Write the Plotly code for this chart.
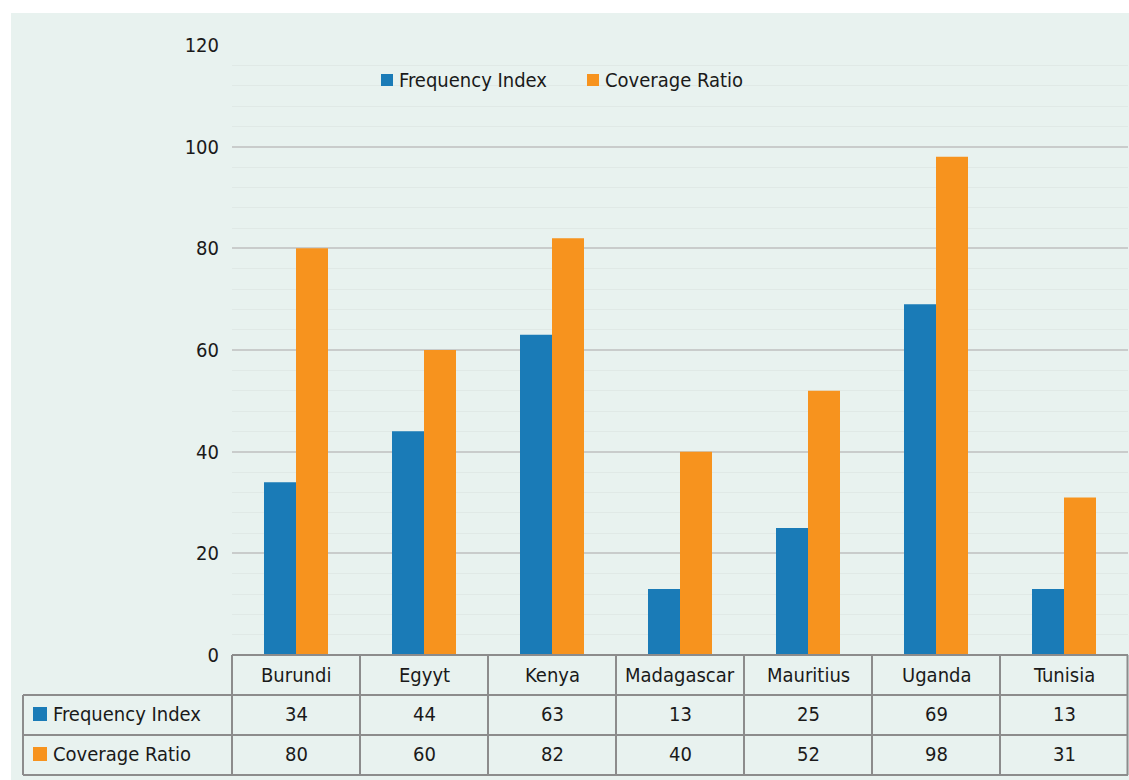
import plotly.graph_objects as go

# Data
countries = ["Burundi", "Egyyt", "Kenya", "Madagascar", "Mauritius", "Uganda", "Tunisia"]
frequency_index = [34, 44, 63, 13, 25, 69, 13]
coverage_ratio = [80, 60, 82, 40, 52, 98, 31]
series_names = ["Frequency Index", "Coverage Ratio"]
y_ticks = [0, 20, 40, 60, 80, 100, 120]

BLUE = "#1a7bb7"
ORANGE = "#f7931e"
BG = "#e8f2ef"
GRID = "#c9cccb"
MINOR = "#e0e9e6"
LINE = "#8c8c8c"
TEXT = "#1a1a1a"
FONT = "Liberation Sans Narrow, DejaVu Sans Condensed, Arial Narrow, sans-serif"
FS = 20

W, H = 1129, 780
L, R, T, B = 232, 1, 45, 125
PW, PH = W - L - R, H - T - B


def px(x):
    return (x - L) / PW


def py(y):
    return (H - B - y) / PH


def label(x, y, text, xref="paper", xanchor="center"):
    return dict(x=x, xref=xref, y=py(y), yref="paper", text=text, showarrow=False,
                xanchor=xanchor, yanchor="middle",
                font=dict(size=FS, color=TEXT, family=FONT))


fig = go.Figure()
fig.add_bar(x=countries, y=frequency_index, name=series_names[0], marker_color=BLUE,
            marker_line_width=0)
fig.add_bar(x=countries, y=coverage_ratio, name=series_names[1], marker_color=ORANGE,
            marker_line_width=0)

shapes = []
annotations = []

# Panel background
shapes.append(dict(type="rect", xref="paper", yref="paper", x0=px(11), x1=px(W + 2),
                   y0=py(13), y1=py(H + 2), fillcolor=BG, line_width=0, layer="below"))

# Data table beneath the bars
n = len(countries)
row_tops = [655, 695, 735, 775]
lw = 2
shapes.append(dict(type="line", xref="paper", yref="paper", x0=0, x1=1,
                   y0=py(row_tops[0]), y1=py(row_tops[0]), line=dict(color=LINE, width=lw)))
for yy in row_tops[1:]:
    shapes.append(dict(type="line", xref="paper", yref="paper", x0=px(23), x1=1,
                       y0=py(yy), y1=py(yy), line=dict(color=LINE, width=lw)))
shapes.append(dict(type="line", xref="paper", yref="paper", x0=px(23), x1=px(23),
                   y0=py(row_tops[1]), y1=py(row_tops[3]), line=dict(color=LINE, width=lw)))
for i in range(n + 1):
    xx = i / n
    if i == n:
        xx = px(1127.5)
    shapes.append(dict(type="line", xref="paper", yref="paper", x0=xx, x1=xx,
                       y0=py(row_tops[0]), y1=py(row_tops[3]), line=dict(color=LINE, width=lw)))

for i, c in enumerate(countries):
    annotations.append(label(c, 675, c, xref="x"))
    annotations.append(label(c, 714, str(frequency_index[i]), xref="x"))
    annotations.append(label(c, 754, str(coverage_ratio[i]), xref="x"))

for name, color, yc in ((series_names[0], BLUE, 714), (series_names[1], ORANGE, 754)):
    shapes.append(dict(type="rect", xref="paper", yref="paper", x0=px(33), x1=px(47),
                       y0=py(yc + 7), y1=py(yc - 7), fillcolor=color, line_width=0))
    annotations.append(label(px(51), yc, name, xanchor="left"))

# Legend above the bars
for name, color, x0 in ((series_names[0], BLUE, 381), (series_names[1], ORANGE, 587)):
    shapes.append(dict(type="rect", xref="paper", yref="paper", x0=px(x0), x1=px(x0 + 12),
                       y0=py(86), y1=py(74), fillcolor=color, line_width=0))
    annotations.append(label(px(x0 + 16), 80, name, xanchor="left"))

fig.update_layout(
    width=W, height=H,
    margin=dict(l=L, r=R, t=T, b=B),
    paper_bgcolor="white",
    plot_bgcolor="rgba(0,0,0,0)",
    barmode="group",
    bargap=0.5,
    bargroupgap=0,
    showlegend=False,
    shapes=shapes,
    annotations=annotations,
    font=dict(family=FONT, size=FS, color=TEXT),
)
fig.update_xaxes(showticklabels=False, showgrid=False, zeroline=False, showline=False,
                 range=[-0.5, n - 0.5])
fig.update_yaxes(range=[0, 120], tickvals=y_ticks, showgrid=True, gridcolor=GRID, gridwidth=2,
                 zeroline=False, showline=False, ticklabelstandoff=12,
                 tickfont=dict(size=FS, color=TEXT, family=FONT),
                 minor=dict(dtick=4, showgrid=True, gridcolor=MINOR, gridwidth=1))

fig.write_html("out.html")
